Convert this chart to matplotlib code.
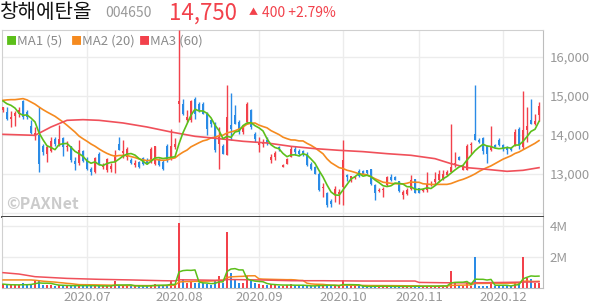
import matplotlib
matplotlib.use("Agg")
import matplotlib.pyplot as plt
import numpy as np
import pandas as pd

plt.rcParams['font.family'] = ['Noto Sans CJK KR', 'DejaVu Sans']

# daily candles, 2020-06-02 .. 2020-12-11
opens = [14650, 14600, 14420, 14480, 14550, 14880, 14600, 14220, 14000, 13990,
         13710, 13520, 13580, 13900, 13780, 13930, 13680, 13730, 13330, 13270,
         13590, 13390, 13140, 13050, 13520, 13180, 13100, 13140, 13300, 13760,
         13530, 13430, 13350, 13220, 13300, 13420, 13350, 13350, 13260, 13350,
         13310, 13730, 13390, 13690, 14800, 14800, 14380, 14380, 14930, 14800,
         14800, 14540, 14380, 14300, 13780, 13730, 13480, 14250, 14500, 14330,
         14080, 14330, 14650, 14030, 13740, 13780, 13860, 13370, 13440, 13700,
         13190, 13260, 13440, 13650, 13600, 13580, 13520, 13260, 13180, 13010,
         12630, 12520, 12320, 12450, 12480, 12670, 12970, 12820, 12900, 13070,
         13070, 13090, 13120, 12710, 12560, 12580, 12710, 12920, 12920, 12810,
         12450, 12480, 12620, 12860, 12640, 12560, 12580, 12710, 12800, 12840,
         12880, 12970, 13050, 13240, 13430, 13090, 13110, 13740, 14020, 13880,
         13930, 13710, 13610, 13740, 13880, 13740, 13690, 13670, 13740, 14160,
         13690, 14140, 14380, 14290, 14500]
highs = [14720, 14720, 14620, 14620, 14720, 14900, 14650, 14380, 14200, 14720,
         13780, 13740, 13950, 13950, 14250, 13950, 13850, 13730, 13440, 13860,
         13610, 13440, 13180, 13440, 13560, 13270, 13410, 13270, 13610, 13950,
         13860, 13690, 13400, 13350, 13330, 13440, 13400, 13680, 13730, 13400,
         13350, 13780, 14160, 13930, 16680, 14930, 14630, 14900, 14980, 14850,
         14850, 14590, 14420, 14340, 14200, 13780, 15270, 15080, 14760, 14380,
         14250, 14850, 14670, 14080, 13950, 13900, 13950, 13520, 13600, 13720,
         13260, 13400, 13710, 13730, 13650, 13620, 13560, 13300, 13200, 13050,
         12760, 12540, 12350, 12680, 12620, 13860, 13010, 12960, 12960, 13140,
         13090, 13110, 13140, 12740, 12640, 12660, 12960, 13010, 12960, 12830,
         12580, 12650, 12970, 12870, 12650, 12650, 13050, 12830, 13050, 13110,
         13110, 13090, 14290, 13560, 13470, 13230, 13780, 13820, 15280, 13910,
         13950, 13740, 14220, 13770, 13910, 13770, 13720, 13690, 14160, 14200,
         15120, 14720, 14920, 14550, 14850]
lows = [14600, 14380, 14200, 14220, 14460, 14420, 14420, 14030, 13880, 13050,
        13480, 13300, 13560, 13730, 13730, 13470, 13600, 13310, 13100, 13220,
        13310, 13100, 12970, 13030, 13220, 13140, 13050, 13050, 13030, 13610,
        13400, 13350, 13250, 13180, 13160, 13230, 13250, 13270, 13220, 13200,
        13090, 13310, 13350, 13650, 14330, 14500, 14340, 14340, 14420, 14600,
        14550, 14000, 14200, 13570, 13130, 13520, 13480, 13860, 14290, 14030,
        14030, 14290, 14160, 13820, 13570, 13690, 13740, 13270, 13350, 13600,
        13180, 13250, 13430, 13480, 13450, 13450, 13200, 13100, 13000, 12560,
        12410, 12150, 12150, 12280, 12220, 12200, 12830, 12800, 12870, 12920,
        12990, 13000, 12730, 12340, 12540, 12400, 12690, 12830, 12840, 12540,
        12360, 12460, 12580, 12520, 12520, 12540, 12540, 12690, 12710, 12800,
        12850, 12950, 13050, 13180, 13350, 13090, 13090, 13520, 13860, 13800,
        13520, 13280, 13590, 13680, 13710, 13600, 13520, 13600, 13710, 13650,
        13650, 13820, 14290, 14250, 14350]
closes = [14720, 14420, 14450, 14560, 14640, 14460, 14460, 14050, 14060, 13260,
          13560, 13680, 13840, 13780, 13900, 13680, 13720, 13350, 13250, 13610,
          13330, 13140, 13050, 13420, 13260, 13220, 13390, 13200, 13480, 13620,
          13600, 13650, 13270, 13280, 13180, 13250, 13270, 13650, 13710, 13220,
          13130, 13350, 13730, 13780, 14880, 14550, 14460, 14870, 14550, 14650,
          14550, 14160, 14290, 13610, 13950, 13520, 14460, 14160, 14290, 14080,
          14210, 14800, 14200, 13900, 13800, 13820, 13800, 13430, 13540, 13640,
          13220, 13390, 13650, 13560, 13500, 13500, 13220, 13140, 13010, 12580,
          12670, 12200, 12240, 12620, 12540, 13350, 12910, 12940, 12920, 12940,
          13010, 13030, 12750, 12500, 12600, 12620, 12920, 12850, 12840, 12560,
          12540, 12580, 12840, 12520, 12520, 12600, 12750, 12750, 12880, 13000,
          13000, 13050, 13180, 13290, 13370, 13220, 13730, 13780, 13880, 13820,
          13590, 13520, 13710, 13680, 13740, 13650, 13620, 13620, 14080, 13740,
          14120, 14230, 14290, 14350, 14750]
volumes_m = [0.25, 0.20, 0.18, 0.20, 0.18, 0.30, 0.20, 0.25, 0.45, 0.45,
             0.20, 0.20, 0.18, 0.15, 0.20, 0.15, 0.12, 0.15, 0.15, 0.18,
             0.15, 0.14, 0.13, 0.15, 0.13, 0.12, 0.14, 0.12, 0.42, 0.15,
             0.16, 0.14, 0.13, 0.12, 0.12, 0.14, 0.13, 0.20, 0.25, 0.15,
             0.15, 0.18, 0.45, 0.20, 4.20, 0.58, 0.30, 0.40, 0.35, 0.30,
             0.30, 0.25, 0.20, 0.45, 0.77, 0.30, 3.63, 0.97, 0.58, 0.35,
             0.30, 0.77, 0.50, 0.30, 0.25, 0.20, 0.20, 0.25, 0.20, 0.15,
             0.15, 0.20, 0.25, 0.15, 0.15, 0.15, 0.12, 0.12, 0.15, 0.25,
             0.15, 0.20, 0.12, 0.15, 0.12, 0.50, 0.20, 0.12, 0.10, 0.10,
             0.10, 0.10, 0.12, 0.15, 0.10, 0.10, 0.12, 0.10, 0.10, 0.12,
             0.10, 0.10, 0.12, 0.15, 0.12, 0.10, 0.15, 0.10, 0.12, 0.15,
             0.15, 0.12, 1.10, 0.30, 0.20, 0.15, 0.35, 0.15, 2.00, 0.15,
             0.15, 0.12, 0.35, 0.12, 0.15, 0.15, 0.12, 0.12, 0.40, 0.30,
             2.00, 0.64, 0.55, 0.30, 0.35]

# first values of the moving averages
# (they depend on days before the visible window)
ma5_head = [14872, 14800, 14760, 14690]
ma20_head = [14889, 14900, 14906, 14906, 14920, 14932, 14900, 14846, 14790,
             14718, 14650, 14590, 14535, 14479, 14405, 14333, 14250, 14162,
             14075]
vma20_head = [0.52, 0.52, 0.52, 0.52, 0.52, 0.52, 0.52, 0.52, 0.50, 0.47,
              0.44, 0.42, 0.40, 0.38, 0.35, 0.33, 0.30, 0.28, 0.25]

# 60-day lines
ma60_idx = [0, 8, 12, 16, 20, 24, 30, 36, 42, 48, 54, 60, 66, 72, 78, 84, 90,
            96, 102, 108, 112, 116, 120, 126, 130, 134]
ma60_price = [14017, 13991, 14205, 14376, 14393, 14376, 14308, 14205, 14077,
              13966, 13906, 13838, 13795, 13709, 13650, 13607, 13573, 13521,
              13479, 13393, 13265, 13162, 13128, 13068, 13094, 13162]
vma60_idx = [0, 4, 8, 16, 24, 32, 40, 43, 44, 48, 55, 56, 64, 72, 80, 90, 100,
             103, 104, 110, 116, 117, 118, 120, 130, 134]
vma60_m = [0.99, 0.90, 0.73, 0.62, 0.56, 0.52, 0.47, 0.46, 0.53, 0.52, 0.49,
           0.55, 0.52, 0.47, 0.47, 0.45, 0.45, 0.45, 0.36, 0.34, 0.33, 0.30,
           0.34, 0.34, 0.38, 0.40]

month_idx = [21, 44, 64, 85, 104, 125]
month_labels = ['2020.07', '2020.08', '2020.09', '2020.10', '2020.11', '2020.12']

RED = '#f2414b'
BLUE = '#2a8be6'
GREEN = '#5cbf1a'
ORANGE = '#f58a1f'
MARED = '#f0505a'
GRID = '#ececec'
TXT = '#999999'

df = pd.DataFrame({'o': opens, 'h': highs, 'l': lows, 'c': closes,
                   'v': np.array(volumes_m) * 1e6})
x = np.arange(len(df))
up = df['c'] >= df['o']
colors = np.where(up, RED, BLUE)

ma5 = df['c'].rolling(5).mean()
ma5.iloc[:len(ma5_head)] = ma5_head
ma20 = df['c'].rolling(20).mean()
ma20.iloc[:len(ma20_head)] = ma20_head
vma5 = df['v'].rolling(5, min_periods=1).mean()
vma20 = df['v'].rolling(20).mean()
vma20.iloc[:len(vma20_head)] = np.array(vma20_head) * 1e6

fig = plt.figure(figsize=(5.94, 3.04), dpi=100)
ax = fig.add_axes([2 / 594, 1 - 217 / 304, 541 / 594, 187 / 304])
axv = fig.add_axes([2 / 594, 1 - 288 / 304, 541 / 594, 71 / 304])

# price panel
body_lo = np.minimum(df['o'], df['c'])
body_h = np.maximum(np.abs(df['c'] - df['o']), 15)
ax.vlines(x, df['l'], df['h'], colors=colors, lw=1, zorder=3)
ax.bar(x, body_h, bottom=body_lo, width=0.72, color=colors, zorder=4)
ax.plot(x, ma20, color=ORANGE, lw=1.2, zorder=5)
ax.plot(ma60_idx, ma60_price, color=MARED, lw=1.2, zorder=5)
ax.plot(x, ma5, color=GREEN, lw=1.2, zorder=6)

ax.set_xlim(-0.25, 135)
ax.set_ylim(11897, 16692)
ax.set_yticks([12000, 13000, 14000, 15000, 16000])
ax.set_yticklabels(['', '13,000', '14,000', '15,000', '16,000'])
ax.set_xticks(month_idx)
ax.set_xticklabels([])

# volume panel
axv.bar(x, df['v'], width=0.72, color=colors, zorder=3)
axv.plot(x, vma20, color=ORANGE, lw=1.1, zorder=4)
axv.plot(vma60_idx, np.array(vma60_m) * 1e6, color=MARED, lw=1.1, zorder=4)
axv.plot(x, vma5, color=GREEN, lw=1.1, zorder=5)
axv.set_xlim(-0.25, 135)
axv.set_ylim(0, 4.58e6)
axv.set_yticks([2e6, 4e6])
axv.set_yticklabels(['2M', '4M'])
axv.set_xticks(month_idx)
axv.set_xticklabels(month_labels)

for a in (ax, axv):
    a.yaxis.tick_right()
    a.grid(True, color=GRID, lw=1, zorder=0)
    a.set_axisbelow(True)
    a.tick_params(length=0, labelsize=9.5, labelcolor=TXT, pad=5)
    a.spines['left'].set_color('#d0d0d0')
    a.spines['right'].set_color('#bdbdbd')
    a.set_facecolor('white')
ax.spines['top'].set_color('#d0d0d0')
ax.spines['bottom'].set_color('#333333')
ax.spines['bottom'].set_linewidth(1.3)
axv.spines['top'].set_visible(False)
axv.spines['bottom'].set_color('#bdbdbd')
axv.tick_params(axis='x', pad=2)

# watermark
ax.text(0.008, 0.07, '©PAXNet', transform=ax.transAxes, fontsize=11.5,
        fontweight='bold', color='#cbcbcb', va='center', ha='left', zorder=1)

# legend
leg_y = 1 - 41.5 / 304
for px, col, lab in [(6, GREEN, 'MA1 (5)'), (71, ORANGE, 'MA2 (20)'), (139, RED, 'MA3 (60)')]:
    fig.text(px / 594, leg_y, '■', color=col, fontsize=8, va='center', ha='left')
    fig.text((px + 11) / 594, leg_y, lab, color='#8a8a8a', fontsize=9.5,
             va='center', ha='left')

# header
hy = 1 - 13 / 304
fig.text(0.0, hy, '창해에탄올', fontsize=14.5, color='#111111', va='center', ha='left')
fig.text(105 / 594, hy, '004650', fontsize=10, color=TXT, va='center', ha='left')
fig.text(169 / 594, hy, '14,750', fontsize=16, color=RED, va='center', ha='left')
fig.text(249 / 594, hy, '▲', fontsize=6.5, color=RED, va='center', ha='left')
fig.text(262 / 594, hy, '400 +2.79%', fontsize=10, color=RED, va='center', ha='left')

fig.savefig('out.png', dpi=100)
